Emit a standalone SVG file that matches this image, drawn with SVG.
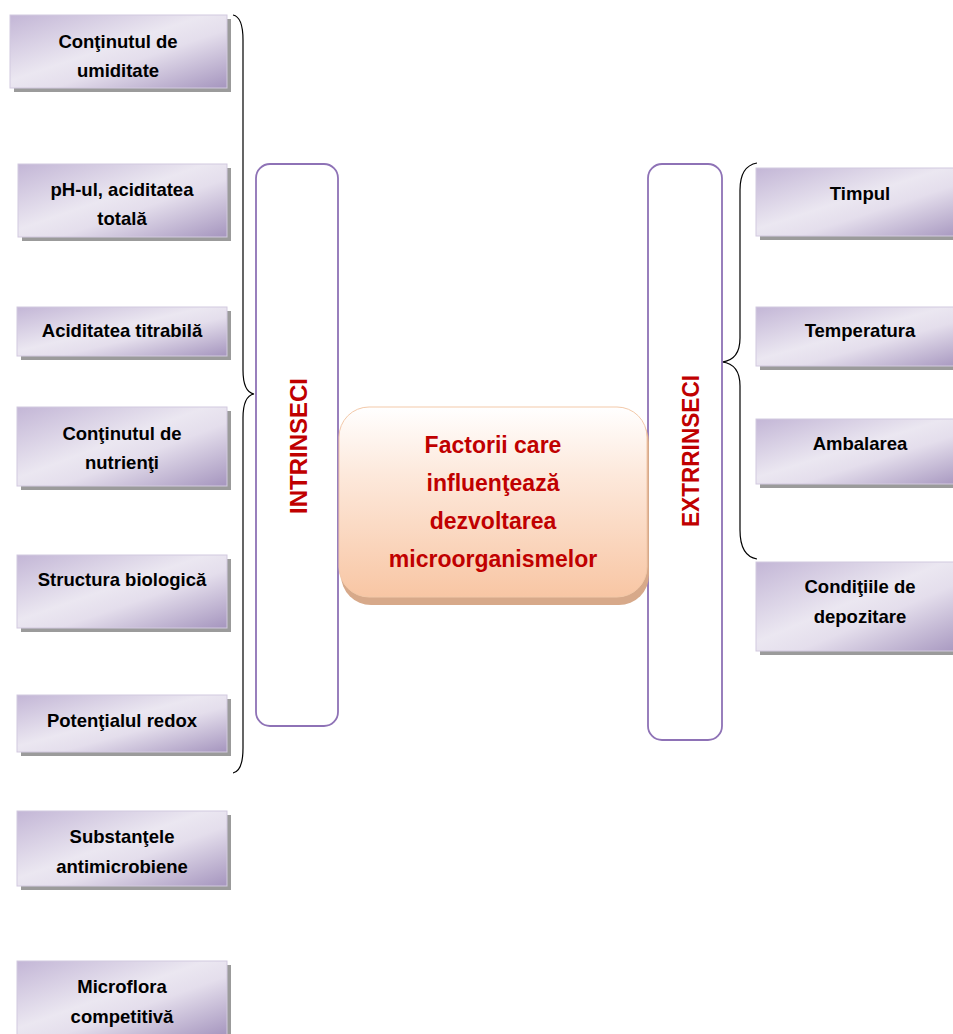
<svg xmlns="http://www.w3.org/2000/svg" width="953" height="1034" viewBox="0 0 953 1034">
<defs>
<linearGradient id="lav" x1="0" y1="0" x2="1" y2="1">
<stop offset="0" stop-color="#c3b6d6"/>
<stop offset="0.45" stop-color="#ebe7f1"/>
<stop offset="0.6" stop-color="#e4deec"/>
<stop offset="1" stop-color="#a595be"/>
</linearGradient>
<linearGradient id="peach" x1="0" y1="0" x2="0" y2="1">
<stop offset="0" stop-color="#ffffff"/>
<stop offset="0.35" stop-color="#fde9dc"/>
<stop offset="1" stop-color="#f8c6a4"/>
</linearGradient>
<style>
.box{fill:url(#lav);stroke:#d2c9df;stroke-width:1}
.sh{fill:#9b9b9b}
.t{font-family:"Liberation Sans",Arial,sans-serif;font-weight:bold;font-size:18.5px;fill:#000;text-anchor:middle}
.red{font-family:"Liberation Sans",Arial,sans-serif;font-weight:bold;fill:#c00000;text-anchor:middle}
.frame{fill:#fff;stroke:#8e72b6;stroke-width:1.8}
.brace{fill:none;stroke:#000;stroke-width:1.2}
</style>
</defs>
<g id="connectors">
<path class="brace" d="M233,15 Q243,17 243,40 L243,370 Q243,392 254,394 Q243,396 243,418 L243,748 Q243,771 233,773"/>
<path class="brace" d="M757,163 Q740,166 740,190 L740,338 Q740,360 722,362 Q740,364 740,386 L740,530 Q740,556 757,559"/>
</g>
<g id="intrinseci">
<rect class="frame" x="256" y="164" width="82" height="562" rx="14"/>
<text class="red" font-size="23" textLength="136" lengthAdjust="spacingAndGlyphs" transform="translate(307,446) rotate(-90)">INTRINSECI</text>
</g>
<g id="extrinseci">
<rect class="frame" x="648" y="164" width="74" height="576" rx="14"/>
<text class="red" font-size="23" textLength="152" lengthAdjust="spacingAndGlyphs" transform="translate(699,451) rotate(-90)">EXTRRINSECI</text>
</g>
<g id="center">
<rect x="341" y="412" width="308" height="193" rx="30" fill="#d7a98a"/>
<rect x="339" y="407" width="308" height="190" rx="30" fill="url(#peach)" stroke="#f3c9a9" stroke-width="1"/>
<text class="red" font-size="23"><tspan x="493" y="453">Factorii care</tspan><tspan x="493" y="491">influenţează</tspan><tspan x="493" y="529">dezvoltarea</tspan><tspan x="493" y="567">microorganismelor</tspan></text>
</g>
<g id="n1"><rect class="sh" x="14" y="19" width="217" height="73"/><rect class="box" x="10" y="15" width="217" height="73"/><text class="t"><tspan x="118" y="48">Conţinutul de</tspan><tspan x="118" y="77">umiditate</tspan></text></g>
<g id="n2"><rect class="sh" x="22" y="168" width="209" height="73"/><rect class="box" x="18" y="164" width="209" height="73"/><text class="t"><tspan x="122" y="196">pH-ul, aciditatea</tspan><tspan x="122" y="225">totală</tspan></text></g>
<g id="n3"><rect class="sh" x="21" y="311" width="210" height="49"/><rect class="box" x="17" y="307" width="210" height="49"/><text class="t" x="122" y="337">Aciditatea titrabilă</text></g>
<g id="n4"><rect class="sh" x="21" y="411" width="210" height="79"/><rect class="box" x="17" y="407" width="210" height="79"/><text class="t"><tspan x="122" y="440">Conţinutul de</tspan><tspan x="122" y="469">nutrienţi</tspan></text></g>
<g id="n5"><rect class="sh" x="21" y="559" width="210" height="73"/><rect class="box" x="17" y="555" width="210" height="73"/><text class="t" x="122" y="586">Structura biologică</text></g>
<g id="n6"><rect class="sh" x="21" y="699" width="210" height="57"/><rect class="box" x="17" y="695" width="210" height="57"/><text class="t" x="122" y="727">Potenţialul redox</text></g>
<g id="n7"><rect class="sh" x="21" y="815" width="210" height="75"/><rect class="box" x="17" y="811" width="210" height="75"/><text class="t"><tspan x="122" y="843">Substanţele</tspan><tspan x="122" y="873">antimicrobiene</tspan></text></g>
<g id="n8"><rect class="sh" x="21" y="965" width="210" height="75"/><rect class="box" x="17" y="961" width="210" height="75"/><text class="t"><tspan x="122" y="993">Microflora</tspan><tspan x="122" y="1023">competitivă</tspan></text></g>
<g id="r1"><rect class="sh" x="760" y="172" width="210" height="68"/><rect class="box" x="756" y="168" width="210" height="68"/><text class="t" x="860" y="200">Timpul</text></g>
<g id="r2"><rect class="sh" x="760" y="311" width="210" height="59"/><rect class="box" x="756" y="307" width="210" height="59"/><text class="t" x="860" y="337">Temperatura</text></g>
<g id="r3"><rect class="sh" x="760" y="423" width="210" height="65"/><rect class="box" x="756" y="419" width="210" height="65"/><text class="t" x="860" y="450">Ambalarea</text></g>
<g id="r4"><rect class="sh" x="760" y="566" width="210" height="89"/><rect class="box" x="756" y="562" width="210" height="89"/><text class="t"><tspan x="860" y="593">Condiţiile de</tspan><tspan x="860" y="623">depozitare</tspan></text></g>
</svg>
